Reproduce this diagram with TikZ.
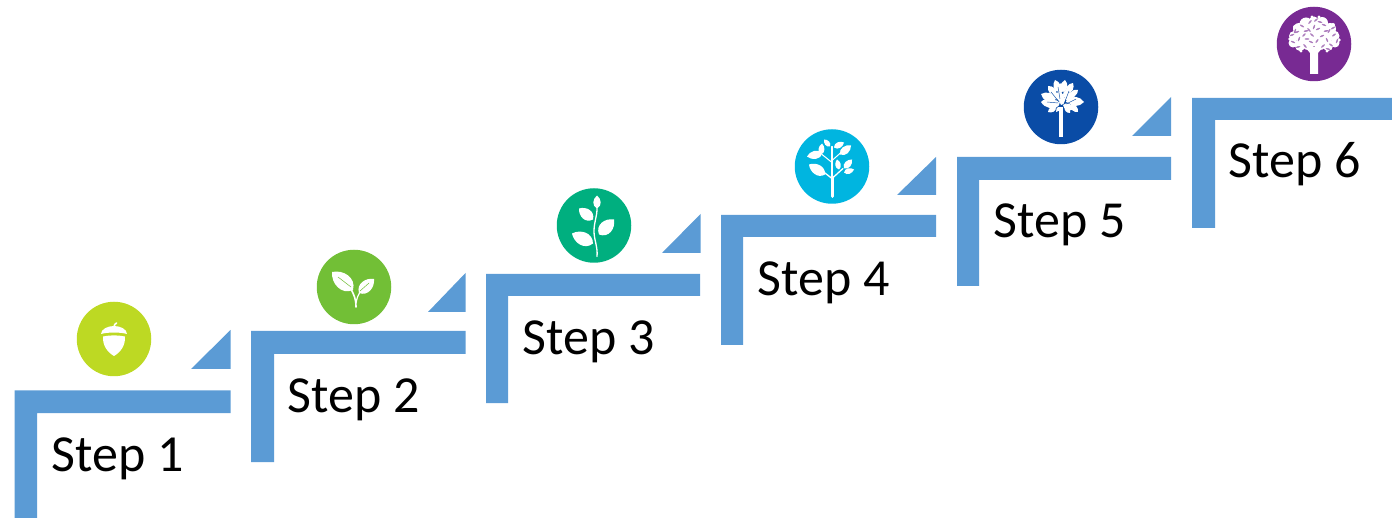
\documentclass[tikz,border=0pt]{standalone}
\usepackage{fontspec}
\setmainfont{Carlito}
\usetikzlibrary{calc}
\definecolor{stairblue}{HTML}{5B9BD5}
\definecolor{cA}{HTML}{BDD923}
\definecolor{cB}{HTML}{72BF36}
\definecolor{cC}{HTML}{00AF7F}
\definecolor{cD}{HTML}{00B5E0}
\definecolor{cE}{HTML}{0A4CA6}
\definecolor{cF}{HTML}{782A93}
\newcommand{\lf}[5][.34]{%
  \pgfmathsetmacro{\dxx}{#4-#2}\pgfmathsetmacro{\dyy}{#5-#3}%
  \pgfmathsetmacro{\aax}{#2+.2*\dxx-#1*\dyy}\pgfmathsetmacro{\aay}{#3+.2*\dyy+#1*\dxx}%
  \pgfmathsetmacro{\bbx}{#2+.75*\dxx-#1*\dyy*.8}\pgfmathsetmacro{\bby}{#3+.75*\dyy+#1*\dxx*.8}%
  \pgfmathsetmacro{\ccx}{#2+.75*\dxx+#1*\dyy*.8}\pgfmathsetmacro{\ccy}{#3+.75*\dyy-#1*\dxx*.8}%
  \pgfmathsetmacro{\ddx}{#2+.2*\dxx+#1*\dyy}\pgfmathsetmacro{\ddy}{#3+.2*\dyy-#1*\dxx}%
  \fill[white] (#2,#3) .. controls (\aax,\aay) and (\bbx,\bby) .. (#4,#5) .. controls (\ccx,\ccy) and (\ddx,\ddy) .. (#2,#3) -- cycle;}
\tikzset{
  stair/.style={fill=stairblue,draw=none},
  wedge/.style={fill=stairblue,draw=none},
  badge/.style={circle,minimum size=74.5pt,inner sep=0pt,draw=none},
  steplabel/.style={anchor=base west,inner sep=0pt,font=\fontsize{52}{60}\selectfont,text=black,draw=none},
  twig/.style={draw=white,line cap=round,line join=round}
}
\begin{document}
\begin{tikzpicture}[x=1pt,y=-1pt]
\useasboundingbox (0,0) rectangle (1392,518);
% stairs
\fill[stair] (14.5,390.5)--(230.5,390.5)--(230.5,413)--(37,413)--(37,518)--(14.5,518)--cycle;
\fill[stair] (251,331)--(465.5,331)--(465.5,354)--(274,354)--(274,462)--(251,462)--cycle;
\fill[stair] (486,274)--(700,274)--(700,296)--(508,296)--(508,403)--(486,403)--cycle;
\fill[stair] (721,215)--(936,215)--(936,237)--(743,237)--(743,345)--(721,345)--cycle;
\fill[stair] (957,157)--(1171,157)--(1171,180)--(979,180)--(979,286)--(957,286)--cycle;
\fill[stair] (1192,98)--(1392,98)--(1392,120)--(1215,120)--(1215,228)--(1192,228)--cycle;
% wedges
\fill[wedge] (191,369)--(230.5,369)--(230.5,330)--cycle;
\fill[wedge] (428,312)--(465.5,312)--(465.5,273)--cycle;
\fill[wedge] (662,253)--(700.5,253)--(700.5,214)--cycle;
\fill[wedge] (897,195)--(936,195)--(936,157)--cycle;
\fill[wedge] (1132,136)--(1171,136)--(1171,97)--cycle;
% labels
\node[steplabel] (s1) at (51.5,471.5) {Step 1};
\node[steplabel] (s2) at (287.5,412.5) {Step 2};
\node[steplabel] (s3) at (522.5,354.5) {Step 3};
\node[steplabel] (s4) at (757.5,295.5) {Step 4};
\node[steplabel] (s5) at (993.5,237.5) {Step 5};
\node[steplabel] (s6) at (1228.5,178) {Step 6};
% badges
\node[badge,fill=cA] (b1) at (114,339) {};
\node[badge,fill=cB] (b2) at (354,287) {};
\node[badge,fill=cC] (b3) at (594,225.5) {};
\node[badge,fill=cD] (b4) at (832,166.5) {};
\node[badge,fill=cE] (b5) at (1061,107) {};
\node[badge,fill=cF] (b6) at (1314,44) {};
% acorn
\begin{scope}[shift={(b1)}]
\fill[white] (-13,-5) .. controls (-13,-10) and (-6,-13) .. (0,-13) .. controls (6,-13) and (13,-10) .. (13,-5) .. controls (6,-7) and (-6,-7) .. (-13,-5) -- cycle;
\draw[twig,line width=1.6pt] (0,-12) .. controls (0,-14) and (1,-15) .. (2.5,-16);
\fill[white] (-11,-2.5) .. controls (-4,-4) and (4,-4) .. (11,-2.5) .. controls (11.5,6) and (7,13) .. (0,17) .. controls (-7,13) and (-11.5,6) .. (-11,-2.5) -- cycle;
\end{scope}
% sprout
\begin{scope}[shift={(b2)}]
\draw[twig,line width=1.6pt] (2,20) .. controls (2,12) and (0,8) .. (-3,2);
\draw[twig,line width=1.2pt] (2,16) .. controls (3,11) and (4,8) .. (6,5);
\lf[.42]{-1}{3}{-22}{-15}
\lf[.42]{5}{6}{20}{-8}
\draw[cB,line width=.5pt] (-3,0) -- (-16,-10);
\draw[cB,line width=.5pt] (6,4) -- (15,-4);
\end{scope}
% branch
\begin{scope}[shift={(b3)}]
\draw[twig,line width=1.3pt] (3,31) .. controls (4,22) and (0,14) .. (0,6) .. controls (0,-4) and (3,-8) .. (3,-17);
\lf[.42]{3}{-17}{3}{-30}
\lf[.45]{-1}{-6}{-15}{-17}
\lf[.45]{5}{9}{20}{-6}
\lf[.42]{-1}{18}{-22}{8}
\end{scope}
% young tree
\begin{scope}[shift={(b4)}]
\draw[twig,line width=3pt] (0,30) -- (0,10);
\draw[twig,line width=1.3pt] (0,12) -- (0,-20);
\draw[twig,line width=1.3pt] (0,12) -- (-9,5);
\draw[twig,line width=1.3pt] (0,12) -- (11,2);
\draw[twig,line width=1pt] (0,-4) -- (-10,-12);
\draw[twig,line width=1pt] (0,-6) -- (9,-14);
\lf[.4]{-10}{-13}{-25}{-10}
\lf[.4]{-11}{-12}{-10}{-23}
\lf[.4]{-2}{-20}{-8}{-27}
\lf[.4]{2}{-19}{12}{-24}
\lf[.4]{8}{-12}{19}{-21}
\lf[.4]{-7}{8}{-23}{-2}
\lf[.4]{12}{2}{20}{-7}
\lf[.4]{12}{6}{22}{3}
\lf[.4]{7}{3}{5}{-7}
\end{scope}
% growing tree
\begin{scope}[shift={(b5)}]
\draw[twig,line width=3.6pt,line cap=butt] (0,30) -- (0,0);
\foreach \ax/\ay/\bx/\by in {
 -2/-15/-6/-27, 2/-15/4/-27, 6/-14/12/-24, -5/-12/-13/-21, 9/-11/17/-17,
 -6/-7/-20/-13, 7/-6/23/-5, -3/-3/-20/-5, 10/-2/17/5, -5/0/-13/5, 2/-4/-3/-16,
 4/0/9/6, -1/0/-5/5, 3/-10/7/-18, -2/-8/-8/-15, 5/-5/13/-9, 0/-2/3/-10,
 0/-10/-12/-12, 3/-8/15/-14, -1/-5/-13/0, 2/-2/13/2, 0/-14/0/-24}
 {\lf[.42]{\ax}{\ay}{\bx}{\by}}
\draw[cE,line width=.45pt] (-10,-15)--(-2,-5) (8,-16)--(3,-3) (-14,-5)--(-3,-4) (15,-8)--(5,-3) (-3,-20)--(-1,-8);
\end{scope}
% mature tree
\begin{scope}[shift={(b6)}]
\fill[white] (-4,30)--(4,30)--(4,9)--(9,3)--(-9,3)--(-4,9)--cycle;
\foreach \px/\py/\pr in {-20/-8/5,-21/-1/4.5,-15/-15/6,-8/-20/6.5,0/-22/5.5,8/-21/6,16/-15/6,20/-8/5.5,21/-1/4.5,14/2/5,6/0/6,-14/2/5,-6/0/6,0/-10/12,-10/-8/9,10/-8/9,-24/-5/1.8,25/-4/1.8,-2/-27/1.6,5/-27/1.6,-19/-17/2,19/-19/2,-13/7/1.6,13/7/1.6}
 {\fill[white] (\px,\py) circle [radius=\pr pt];}
\foreach \px/\py/\pa in {-22/-9/20,-17/-12/20,-12/-18/-30,-4/-22/50,2/-24/40,10/-19/-20,15/-13/60,20/-9/35,23/-3/70,-21/-2/-25,-15/-5/70,-10/-9/45,-5/-14/-50,-2/-9/-40,4/-15/25,8/-8/25,13/-4/-65,17/1/-35,-16/3/15,-9/2/-50,-3/-2/-25,3/-3/55,9/2/40,14/5/-15,-8/-13/10,6/-22/-15,0/-17/70,12/-13/10,-7/-5/0,-19/-13/70,19/-16/30}
 {\fill[cF,opacity=.6,rotate around={\pa:(\px,\py)}] (\px,\py) ellipse [x radius=2.4pt,y radius=.8pt];}
\end{scope}
\end{tikzpicture}
\end{document}
